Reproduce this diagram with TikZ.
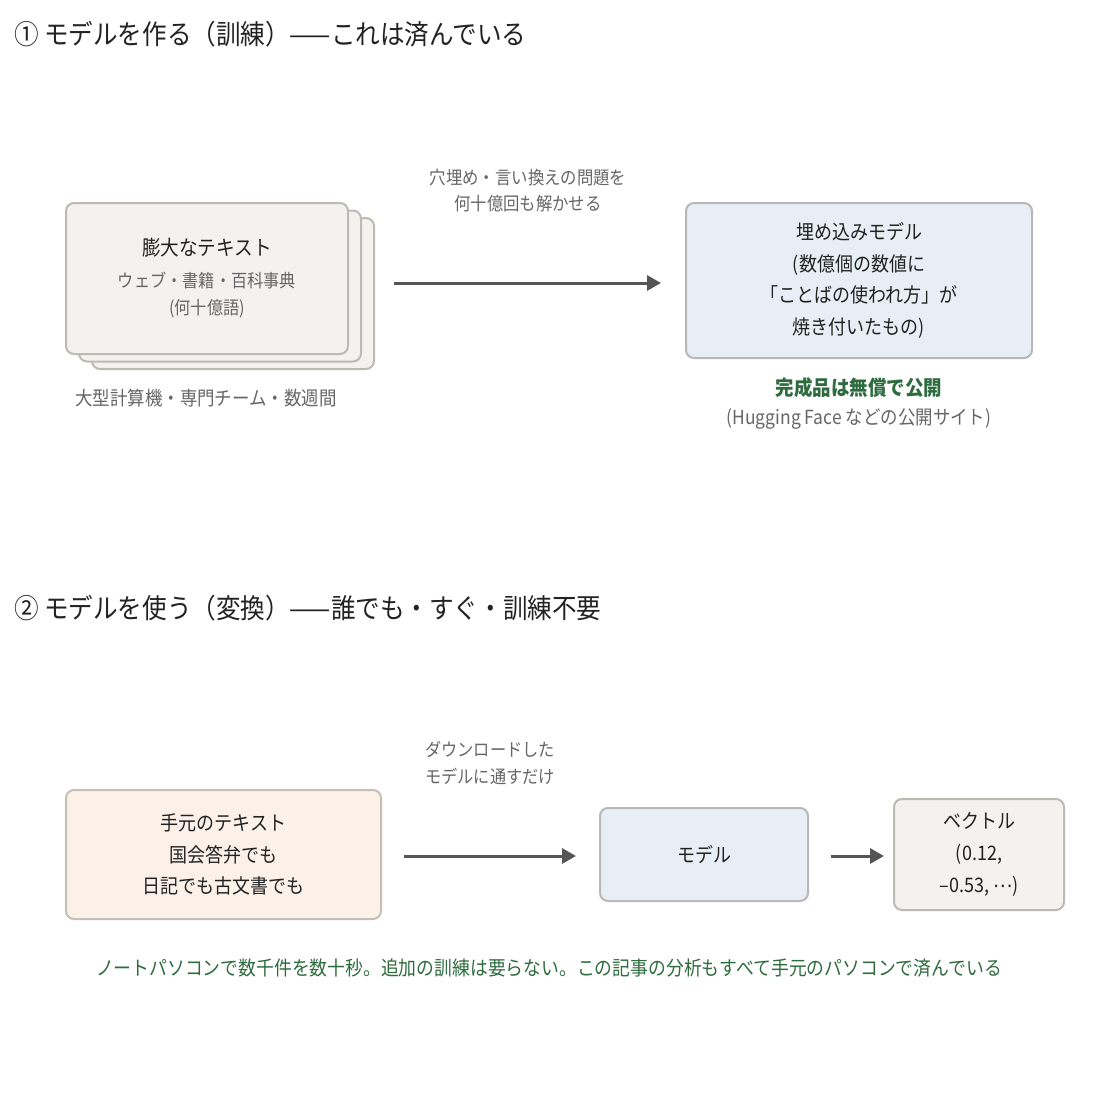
\documentclass[tikz,border=0pt]{standalone}
\usepackage{fontspec}
\setmainfont{Noto Sans CJK JP}[FakeStretch=0.9]
\usetikzlibrary{arrows.meta}
\definecolor{ink}{HTML}{222222}
\definecolor{subgray}{HTML}{666666}
\definecolor{okgreen}{HTML}{2E6B3E}
\definecolor{arrowgray}{HTML}{555555}
\definecolor{grayfill}{HTML}{F3F2EF}
\definecolor{grayline}{HTML}{BDBAB3}
\definecolor{bluefill}{HTML}{E8EEF5}
\definecolor{blueline}{HTML}{B8B8B6}
\definecolor{beigefill}{HTML}{FBF1E8}
\definecolor{beigeline}{HTML}{C6BFB5}
\newcommand\fsTitle{\fontsize{27.3}{31}\selectfont}
\newcommand\fsBody{\fontsize{20}{31.7}\selectfont}
\newcommand\fsSmall{\fontsize{18}{27}\selectfont}
\newcommand\fsNote{\fontsize{19.4}{26}\selectfont}
\tikzset{
  titletext/.style={anchor=west, inner sep=0pt, text=ink, font=\fsTitle},
  boxbase/.style={draw, line width=2pt, rounded corners=8pt, inner sep=0pt, align=center, text=ink},
  graybox/.style={boxbase, draw=grayline, fill=grayfill},
  bluebox/.style={boxbase, draw=blueline, fill=bluefill},
  beigebox/.style={boxbase, draw=beigeline, fill=beigefill},
  notetext/.style={inner sep=0pt, align=center, text=subgray, font=\fsSmall},
  arr/.style={draw=arrowgray, line width=3pt, -{Triangle[length=14pt,width=15pt]}},
}
\begin{document}
\begin{tikzpicture}[x=1pt,y=-1pt]
\fill[white] (0,0) rectangle (1098,1098);
\useasboundingbox (0,0) rectangle (1098,1098);

% ---------- section 1 ----------
\node[titletext] (t1) at (14,34) {① モデルを作る（訓練）——これは済んでいる};

\node[graybox, minimum width=282pt, minimum height=151pt] (stack3) at (233,293.5) {};
\node[graybox, minimum width=282pt, minimum height=151pt] (stack2) at (220,286) {};
\node[graybox, minimum width=282pt, minimum height=151pt, font=\fsSmall] (front) at (207,278.5)
  {{\fontsize{20.7}{31.7}\selectfont\color{ink}膨大なテキスト}\\[5pt]{\color{subgray}ウェブ・書籍・百科事典}\\{\color{subgray}(何十億語)}};

\node[notetext, font=\fsNote] (cost) at (206,398) {大型計算機・専門チーム・数週間};

\node[bluebox, minimum width=346pt, minimum height=155pt, font=\fsBody] (emb) at (859,280.5)
  {埋め込みモデル\\(数億個の数値に\\「ことばの使われ方」が\\焼き付いたもの)};

\draw[arr] ([xshift=19pt,yshift=-2.5pt]stack3.east |- emb.west) -- ([xshift=-24pt,yshift=-2.5pt]emb.west);
\node[notetext, font=\fontsize{18.2}{26}\selectfont] (lbl1) at (528,191) {穴埋め・言い換えの問題を\\何十億回も解かせる};

\node[inner sep=0pt, text=okgreen, font=\fontsize{20.5}{24}\selectfont\bfseries] (free) at (859,388) {完成品は無償で公開};
\node[notetext, font=\fsNote] (hf) at (859,419) {(Hugging Face などの公開サイト)};

% ---------- section 2 ----------
\node[titletext] (t2) at (14,608) {② モデルを使う（変換）——誰でも・すぐ・訓練不要};

\node[beigebox, minimum width=315pt, minimum height=129pt, font=\fsBody] (local) at (223.5,854.5)
  {手元のテキスト\\国会答弁でも\\日記でも古文書でも};
\node[bluebox, minimum width=208pt, minimum height=93pt, font=\fsBody] (model) at (704,854.5) {モデル};
\node[graybox, minimum width=170pt, minimum height=111pt, font=\fsBody] (vec) at (979,854.5)
  {ベクトル\\(0.12,\\–0.53, \raisebox{5pt}{⋯})};

\draw[arr] ([xshift=22pt,yshift=-1.5pt]local.east) -- ([xshift=-23pt,yshift=-1.5pt]model.west);
\node[notetext] (lbl2) at (490,763.5) {ダウンロードした\\モデルに通すだけ};
\draw[arr] ([xshift=22pt,yshift=-1.5pt]model.east) -- ([xshift=-9pt,yshift=-1.5pt]vec.west);

\node[inner sep=0pt, text=okgreen, font=\fontsize{19.8}{24}\selectfont] (foot) at (549,968)
  {ノートパソコンで数千件を数十秒。追加の訓練は要らない。この記事の分析もすべて手元のパソコンで済んでいる};
\end{tikzpicture}
\end{document}
